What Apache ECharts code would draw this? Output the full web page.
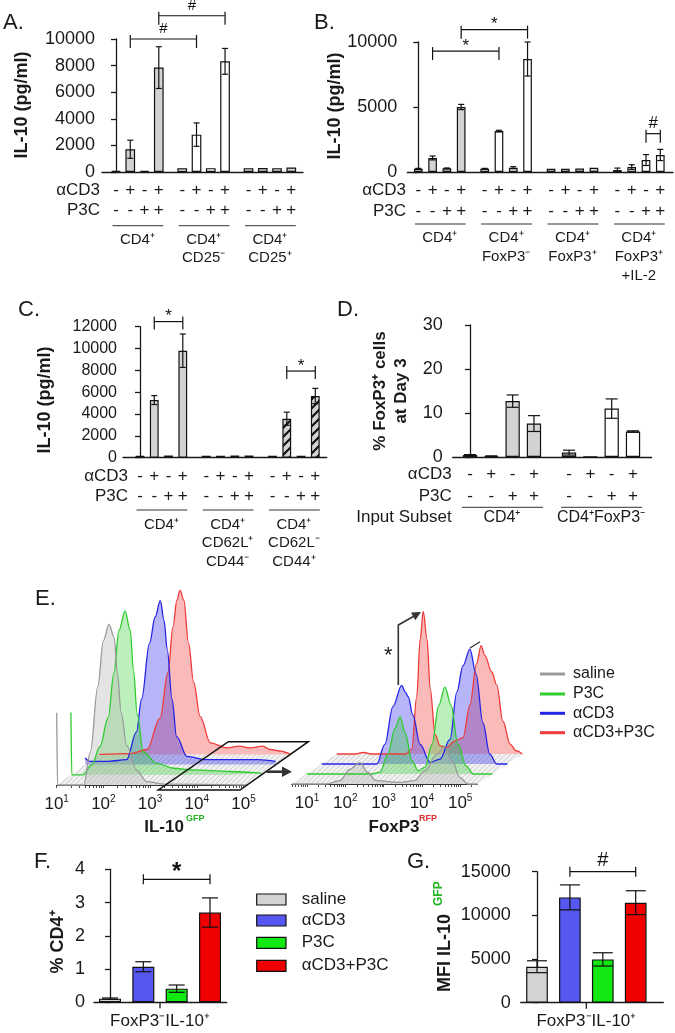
<!DOCTYPE html>
<html><head><meta charset="utf-8">
<script src="https://cdn.jsdelivr.net/npm/echarts@6/dist/echarts.min.js"></script>
<style>html,body{margin:0;padding:0;background:#fff}#c{width:675px;height:1033px}</style>
</head><body><div id="c"></div>
<script>
// ================= DATA =================
const aCD3Row = ['-', '+', '-', '+'];
const p3cRow  = ['-', '-', '+', '+'];

// Panel A
const groupsA   = ['CD4⁺', 'CD4⁺\nCD25⁻', 'CD4⁺\nCD25⁺'];
const valuesA   = [80, 1710, 90, 7850,   280, 2810, 290, 8320,   290, 300, 290, 340];
const errorsA   = [0, 680, 0, 1570,      0, 880, 0, 970,         0, 0, 0, 0];
const bracketsA = [[1, 5, 10000, '#'], [3, 7, 11750, '#']];

// Panel B
const groupsB   = ['CD4⁺', 'CD4⁺\nFoxP3⁻', 'CD4⁺\nFoxP3⁺', 'CD4⁺\nFoxP3⁺\n+IL-2'];
const valuesB   = [250, 1080, 280, 5000,  250, 3150, 330, 8690,  250, 250, 260, 330,  150, 380, 920, 1310];
const errorsB   = [30, 150, 30, 200,      30, 60, 80, 1310,      0, 0, 0, 0,          150, 180, 420, 430];
const bracketsB = [[1, 5, 9300, '*'], [3, 7, 10950, '*'], [14, 15, 2950, '#']];

// Panel C
const groupsC   = ['CD4⁺', 'CD4⁺\nCD62L⁺\nCD44⁻', 'CD4⁺\nCD62L⁻\nCD44⁺'];
const valuesC   = [180, 5280, 200, 9800,  180, 180, 200, 200,  180, 3570, 180, 5650];
const errorsC   = [0, 410, 0, 1530,       0, 0, 0, 0,          0, 600, 0, 700];
const bracketsC = [[1, 3, 12470, '*'], [9, 11, 7940, '*']];

// Panel D
const groupsD   = ['CD4⁺', 'CD4⁺FoxP3⁻'];
const valuesD   = [0.45, 0.2, 12.7, 7.6,  1.0, 0.05, 11.0, 5.8];
const errorsD   = [0.1, 0.05, 1.4, 1.8,   0.55, 0, 2.2, 0.15];

// Panels F and G
const treatmentsF = ['saline', 'αCD3', 'P3C', 'αCD3+P3C'];
const categoryFG  = 'FoxP3⁻IL-10⁺';
const valuesF   = [0.11, 1.07, 0.41, 2.70];
const errorsF   = [0.02, 0.15, 0.11, 0.44];
const bracketsF = [[1, 3, 3.70, '*']];
const valuesG   = [4120, 12060, 4960, 11450];
const errorsG   = [680, 1430, 760, 1370];
const bracketsG = [[1, 3, 15000, '#']];

// Panel E: histograms, x in decades (log10 intensity), y in % of mode
const treatmentsE = ['saline', 'P3C', 'αCD3', 'αCD3+P3C'];
const decadeLabels = [1, 2, 3, 4, 5];
const gfpSaline = [[1.0,44],[1.02,0],[1.58,0],[1.72,20],[1.88,60],[2.0,88],[2.12,98],[2.23,90],[2.3,68],[2.38,44],[2.5,24],[2.71,9],[2.93,2],[3.3,0.5],[5.08,0]];
const gfpP3C    = [[1.0,38],[1.02,0],[1.25,0],[1.45,6],[1.62,17],[1.8,35],[1.92,62],[2.03,88],[2.16,100],[2.27,88],[2.34,64],[2.42,37],[2.55,14],[2.84,7],[3.2,4],[3.6,3],[4.4,2],[5.08,1]];
const gfpCD3    = [[1.0,4],[1.1,2],[1.5,2],[1.89,3],[2.1,20],[2.21,40],[2.38,74],[2.5,90],[2.61,100],[2.69,88],[2.76,70],[2.86,40],[2.96,17],[3.18,5],[3.6,3],[4.2,3],[4.7,3],[5.08,2]];
const gfpCD3P3C = [[1.0,0],[1.66,0.5],[2.02,3],[2.3,22],[2.47,50],[2.58,78],[2.66,94],[2.73,100],[2.81,94],[2.91,68],[3.02,44],[3.16,23],[3.38,7],[3.73,4],[4.0,5],[4.23,4],[4.5,5],[4.66,3],[4.9,2],[5.02,1],[5.08,0]];
const rfpSaline = [[0.6,0],[1.5,0],[1.86,2],[2.12,9],[2.38,13],[2.59,7],[2.8,2],[3.43,1],[3.8,2],[4.08,8],[4.39,18],[4.6,23],[4.79,14],[4.99,4],[5.2,0],[5.45,0]];
const rfpP3C    = [[0.6,0],[2.3,0],[2.51,1],[2.72,12],[2.91,28],[3.04,35],[3.17,25],[3.35,8],[3.51,2],[3.69,4],[3.87,18],[4.05,42],[4.21,53],[4.37,42],[4.55,18],[4.76,5],[4.95,0],[5.45,0]];
const rfpCD3    = [[0.6,0],[2.04,0],[2.25,12],[2.46,35],[2.69,48],[2.78,44],[2.86,41],[2.98,30],[3.17,12],[3.43,1],[3.69,3],[3.95,15],[4.13,44],[4.29,60],[4.47,70],[4.63,55],[4.81,25],[4.99,6],[5.17,0],[5.45,0]];
const rfpCD3P3C = [[0.6,0],[1.1,0],[1.29,1],[1.5,0],[2.4,0],[2.56,3],[2.69,35],[2.78,70],[2.86,87],[2.96,70],[3.04,40],[3.17,12],[3.3,5],[3.47,4],[3.69,8],[3.9,10],[4.08,30],[4.25,55],[4.37,66],[4.47,60],[4.65,50],[4.78,42],[4.94,20],[5.13,6],[5.28,2],[5.45,0]];

// ================= STYLE / LAYOUT =================
const FONT = '"Liberation Sans", Arial, Helvetica, sans-serif';
const INK = '#1a1a1a';
const GREY = '#d3d3d3', WHITE = '#ffffff';
function makeHatch() {
  const c = document.createElement('canvas'); c.width = c.height = 9;
  const g = c.getContext('2d');
  g.fillStyle = GREY; g.fillRect(0, 0, 9, 9);
  g.strokeStyle = '#111'; g.lineWidth = 2.2; g.beginPath();
  g.moveTo(-1, 10); g.lineTo(10, -1); g.moveTo(-1, 1); g.lineTo(1, -1); g.moveTo(8, 10); g.lineTo(10, 8);
  g.stroke(); return c;
}
function makeFloor() {
  const c = document.createElement('canvas'); c.width = c.height = 5;
  const g = c.getContext('2d');
  g.fillStyle = '#f1f1f1'; g.fillRect(0, 0, 5, 5);
  g.strokeStyle = '#c4c4c4'; g.lineWidth = 0.8; g.beginPath();
  g.moveTo(-1, 6); g.lineTo(6, -1); g.stroke(); return c;
}
const HATCH = {image: makeHatch(), repeat: 'repeat'};
const FLOOR = {image: makeFloor(), repeat: 'repeat'};
const fillMap = {g: GREY, w: WHITE, h: HATCH};
const treatColorsFG = ['#d3d3d3', '#5656f0', '#12e812', '#f00000'];
const lineColorsE = ['#9a9a9a', '#2ecc2e', '#2424e6', '#f03a3a'];
const areaColorsE = ['rgba(185,185,185,0.55)', 'rgba(40,205,40,0.45)', 'rgba(30,30,230,0.47)', 'rgba(240,60,60,0.5)'];

const stylesA = 'ggggwwwwgggg'.split('');
const stylesB = 'ggggwwwwggggwwww'.split('');
const stylesC = 'gggggggggh gh'.replace(' ', '').split('');
const stylesD = 'ggggwwww'.split('');

const panels = [
  {values: valuesA, errors: errorsA, groups: groupsA, brackets: bracketsA, styles: stylesA,
   axisL: 102, axisR: 303, yTop: 39, y0: 172, yMax: 10000, yInt: 2000, firstPx: 116, lastPx: 291.3,
   barW: 9.7, capW: 6, tickFont: 18, margin: 7, brFont: 15, brUp: 4, brDown: 9,
   rows: [{label: 'αCD3', marks: aCD3Row, y: 190}, {label: 'P3C', marks: p3cRow, y: 210.7}],
   rowRight: 100, rowFont: 17, gLineY: 225.7, gLabelY: 240, gLH: 18, gFont: 15},
  {values: valuesB, errors: errorsB, groups: groupsB, brackets: bracketsB, styles: stylesB,
   axisL: 407.3, axisR: 673, yTop: 42, y0: 172, yMax: 10000, yInt: 5000, firstPx: 418.3, lastPx: 660.3,
   barW: 8.7, capW: 6, tickFont: 18, margin: 10, brFont: 17, brUp: 4, brDown: 9,
   rows: [{label: 'αCD3', marks: aCD3Row, y: 190}, {label: 'P3C', marks: p3cRow, y: 211.7}],
   rowRight: 406, rowFont: 17, gLineY: 224, gLabelY: 238.3, gLH: 19, gFont: 15},
  {values: valuesC, errors: errorsC, groups: groupsC, brackets: bracketsC, styles: stylesC,
   axisL: 123, axisR: 326.7, yTop: 326.7, y0: 457.7, yMax: 12000, yInt: 2000, firstPx: 140, lastPx: 315.3,
   barW: 8.8, capW: 6, tickFont: 16, margin: 6, brFont: 17, brUp: 5, brDown: 8,
   rows: [{label: 'αCD3', marks: aCD3Row, y: 476.7}, {label: 'P3C', marks: p3cRow, y: 496.7}],
   rowRight: 128, rowFont: 17, gLineY: 510, gLabelY: 525, gLH: 18.3, gFont: 15},
  {values: valuesD, errors: errorsD, groups: groupsD, brackets: [], styles: stylesD,
   axisL: 452.7, axisR: 651.7, yTop: 325, y0: 457, yMax: 30, yInt: 10, firstPx: 470, lastPx: 633,
   barW: 14.3, capW: 12, tickFont: 18, margin: 10, brFont: 17, brUp: 4, brDown: 9,
   rows: [{label: 'αCD3', marks: aCD3Row, y: 474}, {label: 'P3C', marks: p3cRow, y: 496.7}, {label: 'Input Subset', marks: null, y: 517.7}],
   rowRight: 451.7, rowFont: 17, gLineY: 507.3, gLabelY: 517.7, gLH: 18, gFont: 16, gExt: 8},
  {values: valuesF, errors: errorsF, groups: null, brackets: bracketsF, colors: treatColorsFG,
   axisL: 94, axisR: 226.7, yTop: 869.3, y0: 1002.3, yMax: 4, yInt: 1, firstPx: 110, lastPx: 210,
   barW: 22, capW: 16, tickFont: 18, margin: 9, brFont: 24, brBold: true, brUp: 5, brDown: 5, brGap: 7,
   catY: 1021.7},
  {values: valuesG, errors: errorsG, groups: null, brackets: bracketsG, colors: treatColorsFG,
   axisL: 520.7, axisR: 663.3, yTop: 871.7, y0: 1002.7, yMax: 15000, yInt: 5000, firstPx: 537, lastPx: 635.7,
   barW: 21.7, capW: 20, tickFont: 18, margin: 10, brFont: 20, brUp: 5, brDown: 5, brGap: 11.7,
   catY: 1021.7}
];
const GROUP_STEP = 4.645; // slots between first bars of consecutive groups

const grids = [], xAxes = [], yAxes = [], series = [];
const axisLineStyle = {color: INK, width: 1.3};

panels.forEach(p => {
  const gi = grids.length; p.gi = gi;
  const n = p.values.length;
  p.pos = p.values.map((_, j) => Math.floor(j / 4) * GROUP_STEP + (j % 4));
  const lastPos = p.pos[n - 1];
  const slot = (p.lastPx - p.firstPx) / lastPos;
  const xmin = -(p.firstPx - p.axisL) / slot;
  const xmax = lastPos + (p.axisR - p.lastPx) / slot;
  grids.push({left: p.axisL, top: p.yTop, width: p.axisR - p.axisL, height: p.y0 - p.yTop, outerBoundsMode: 'none', containLabel: false});
  xAxes.push({gridIndex: gi, type: 'value', min: xmin, max: xmax,
    axisLine: {show: true, onZero: false, lineStyle: axisLineStyle}, axisTick: {show: false},
    axisLabel: {show: false}, splitLine: {show: false}});
  yAxes.push({gridIndex: gi, type: 'value', min: 0, max: p.yMax, interval: p.yInt,
    axisLine: {show: true, lineStyle: axisLineStyle},
    axisTick: {show: true, length: 5, lineStyle: axisLineStyle},
    axisLabel: {fontSize: p.tickFont, color: INK, margin: p.margin, fontFamily: FONT, formatter: v => String(v)},
    splitLine: {show: false}});
  series.push({type: 'bar', xAxisIndex: gi, yAxisIndex: gi, barWidth: p.barW, silent: true,
    itemStyle: {borderColor: '#111', borderWidth: 1.2},
    data: p.values.map((v, j) => ({value: [p.pos[j], v],
      itemStyle: {color: p.colors ? p.colors[j] : fillMap[p.styles[j]]}}))});
  series.push({type: 'custom', xAxisIndex: gi, yAxisIndex: gi, silent: true, z: 4,
    data: p.values.map((v, j) => [p.pos[j], v, p.errors[j]]),
    renderItem: (params, api) => {
      const x = api.value(0), v = api.value(1), e = api.value(2);
      if (!(e > 0)) return null;
      const t = api.coord([x, v + e]), b = api.coord([x, v - e]);
      const hw = p.capW / 2, st = {stroke: '#111', lineWidth: 1.2};
      return {type: 'group', children: [
        {type: 'line', shape: {x1: t[0], y1: t[1], x2: b[0], y2: b[1]}, style: st},
        {type: 'line', shape: {x1: t[0] - hw, y1: t[1], x2: t[0] + hw, y2: t[1]}, style: st},
        {type: 'line', shape: {x1: b[0] - hw, y1: b[1], x2: b[0] + hw, y2: b[1]}, style: st}]};
    }});
  if (p.brackets.length) {
    series.push({type: 'custom', xAxisIndex: gi, yAxisIndex: gi, silent: true, z: 4, clip: false,
      data: p.brackets.map(b => [p.pos[b[0]], p.pos[b[1]], b[2]]),
      renderItem: (params, api) => {
        const a = api.coord([api.value(0), api.value(2)]), b = api.coord([api.value(1), api.value(2)]);
        const lbl = p.brackets[params.dataIndex][3];
        const st = {stroke: '#111', lineWidth: 1.2};
        const gap = p.brGap != null ? p.brGap : (lbl === '*' ? 5 : 10);
        return {type: 'group', children: [
          {type: 'line', shape: {x1: a[0], y1: a[1], x2: b[0], y2: b[1]}, style: st},
          {type: 'line', shape: {x1: a[0], y1: a[1] - p.brUp, x2: a[0], y2: a[1] + p.brDown}, style: st},
          {type: 'line', shape: {x1: b[0], y1: b[1] - p.brUp, x2: b[0], y2: b[1] + p.brDown}, style: st},
          {type: 'text', x: (a[0] + b[0]) / 2, y: a[1] - gap,
           style: {text: lbl, fill: '#111', font: (p.brBold ? 'bold ' : '') + p.brFont + 'px ' + FONT,
             textAlign: 'center', align: 'center', textVerticalAlign: 'middle', verticalAlign: 'middle'}}]};
      }});
  }
});

// Panel E histogram layers (k=0 front/saline ... k=3 back/αCD3+P3C)
const histSets = [
  {curves: [gfpSaline, gfpP3C, gfpCD3, gfpCD3P3C], origin10: 56.7, decade: 46.7, xMin: 1, xMax: 5.08, base0: 785, dx: 14.2, dy: 10.2},
  {curves: [rfpSaline, rfpP3C, rfpCD3, rfpCD3P3C], origin10: 307, decade: 38.3, xMin: 0.6, xMax: 5.45, base0: 784, dx: 15, dy: 10}
];
const HIST_H = 164;
histSets.forEach(h => {
  h.grids = [];
  for (let k = 3; k >= 0; k--) {
    const gi = grids.length; h.grids[k] = gi;
    const left = h.origin10 + k * h.dx + (h.xMin - 1) * h.decade;
    const base = h.base0 - k * h.dy;
    grids.push({left: left, top: base - HIST_H, width: (h.xMax - h.xMin) * h.decade, height: HIST_H, outerBoundsMode: 'none', containLabel: false});
    const front = k === 0;
    const minor = [];
    for (let d = 0; d <= 5; d++) for (let m = 1; m <= 9; m++) {
      const v = d + Math.log10(m);
      if (v >= h.xMin - 1e-9 && v <= h.xMax) minor.push(v);
    }
    xAxes.push({gridIndex: gi, type: 'value', min: h.xMin, max: h.xMax, show: front,
      axisLine: {show: front, onZero: false, lineStyle: {color: '#333', width: 1.1}},
      axisTick: {show: front, length: 3, customValues: minor, lineStyle: {color: '#333', width: 0.9}},
      axisLabel: {show: front, customValues: decadeLabels, margin: 9,
        formatter: v => '{b|10}{s|' + Math.round(v) + '}',
        rich: {b: {fontSize: 17, fontFamily: FONT, color: INK, lineHeight: 20},
               s: {fontSize: 10, fontFamily: FONT, color: INK, lineHeight: 12, verticalAlign: 'top'}}},
      splitLine: {show: false}});
    yAxes.push({gridIndex: gi, type: 'value', min: 0, max: 100, show: false, splitLine: {show: false}});
    series.push({type: 'line', xAxisIndex: gi, yAxisIndex: gi, data: h.curves[k], silent: true,
      smooth: 0.35, smoothMonotone: 'x', symbol: 'none', clip: false,
      lineStyle: {color: lineColorsE[k], width: 1.3},
      areaStyle: {color: areaColorsE[k]}, z: 3});
  }
});

const chart = echarts.init(document.getElementById('c'), null, {width: 675, height: 1033, renderer: 'canvas'});
chart.setOption({animation: false, backgroundColor: '#fff', grid: grids, xAxis: xAxes, yAxis: yAxes, series: series});

// ================= TEXT / ANNOTATIONS =================
const G = [];
function T(x, y, text, size, o) {
  o = o || {};
  const al = o.align || 'center', va = o.va || 'middle';
  const st = {text: text, font: (o.bold ? 'bold ' : '') + size + 'px ' + FONT, fill: o.color || INK,
    textAlign: al, align: al, textVerticalAlign: va, verticalAlign: va};
  if (o.lh) st.lineHeight = o.lh;
  return {type: 'text', x: x, y: y, rotation: o.rot || 0, z: 100, silent: true, style: st};
}
function L(x1, y1, x2, y2, w, c) {
  return {type: 'line', z: 100, silent: true, shape: {x1, y1, x2, y2}, style: {stroke: c || INK, lineWidth: w || 1}};
}
const R90 = Math.PI / 2;

panels.forEach(p => {
  const px = j => chart.convertToPixel({xAxisIndex: p.gi}, p.pos[j]);
  if (p.rows) {
    p.rows.forEach(r => {
      G.push(T(p.rowRight, r.y, r.label, p.rowFont, {align: 'right'}));
      if (r.marks) p.values.forEach((_, j) => G.push(T(px(j), r.y, r.marks[j % 4], p.rowFont)));
    });
    p.groups.forEach((lbl, g) => {
      const j0 = g * 4, j1 = g * 4 + 3;
      const ext = p.gExt || 3.5;
      G.push(L(px(j0) - ext, p.gLineY, px(j1) + ext + 1, p.gLineY, 1, '#333'));
      G.push(T((px(j0) + px(j1)) / 2, p.gLabelY - p.gLH / 2, lbl, p.gFont, {va: 'top', lh: p.gLH}));
    });
  } else {
    const cx = chart.convertToPixel({xAxisIndex: p.gi}, 1.5);
    G.push(L(cx, p.y0, cx, p.y0 + 6, 1.3));
    G.push(T(cx, p.catY, categoryFG, 17));
  }
});

// panel letters
G.push(T(3, 23, 'A.', 22, {align: 'left'}));
G.push(T(314, 23, 'B.', 22, {align: 'left'}));
G.push(T(18, 310, 'C.', 22, {align: 'left'}));
G.push(T(337, 310, 'D.', 22, {align: 'left'}));
G.push(T(35, 599, 'E.', 22, {align: 'left'}));
G.push(T(34, 862, 'F.', 22, {align: 'left'}));
G.push(T(407, 862, 'G.', 22, {align: 'left'}));

// axis titles
G.push(T(22, 105, 'IL-10 (pg/ml)', 18, {bold: true, rot: R90}));
G.push(T(335, 106, 'IL-10 (pg/ml)', 18, {bold: true, rot: R90}));
G.push(T(45, 400, 'IL-10 (pg/ml)', 18, {bold: true, rot: R90}));
G.push(T(380, 391, '% FoxP3⁺ cells', 17, {bold: true, rot: R90}));
G.push(T(401.7, 391, 'at Day 3', 17, {bold: true, rot: R90}));
G.push(T(58, 942, '% CD4⁺', 18, {bold: true, rot: R90}));
G.push(T(445, 992, 'MFI IL-10', 18, {bold: true, rot: R90, align: 'left'}));
G.push(T(439, 906, 'GFP', 12, {bold: true, rot: R90, align: 'left', color: '#22b422'}));
G.push(T(164, 827, 'IL-10', 17, {bold: true}));
G.push(T(186, 819, 'GFP', 9, {bold: true, align: 'left', color: '#22b422'}));
G.push(T(394, 827, 'FoxP3', 17, {bold: true}));
G.push(T(419, 819, 'RFP', 9, {bold: true, align: 'left', color: '#e03030'}));

// panel E floors
histSets.forEach(h => {
  const x0 = h.origin10 + (h.xMin - 1) * h.decade, x1 = x0 + (h.xMax - h.xMin) * h.decade;
  const b = h.base0;
  G.push({type: 'polygon', z: 0, silent: true,
    shape: {points: [[x0, b], [x1, b], [x1 + 3 * h.dx, b - 3 * h.dy], [x0 + 3 * h.dx, b - 3 * h.dy]]},
    style: {fill: FLOOR, stroke: null}});
});
// gate + arrow (left)
G.push({type: 'polygon', z: 100, silent: true, shape: {points: [[158.3, 790], [240, 790], [308.3, 741.7], [228.3, 741.7]]},
  style: {fill: null, stroke: '#111', lineWidth: 1.5}});
G.push(L(266.7, 771.7, 284, 771.7, 2.6, '#333'));
G.push({type: 'polygon', z: 100, silent: true, shape: {points: [[292, 771.7], [282, 766.5], [282, 776.9]]}, style: {fill: '#333'}});
// right annotation
G.push(T(388.3, 656, '*', 22));
G.push({type: 'polyline', z: 100, silent: true, shape: {points: [[398.3, 685], [398.3, 625], [416, 615]]}, style: {stroke: '#333', lineWidth: 1.6, fill: null}});
(function () {
  const tx = 421, ty = 612, ux = 0.87, uy = -0.49, len = 9, hw = 4.5;
  const bx = tx - len * ux, by = ty - len * uy;
  G.push({type: 'polygon', z: 100, silent: true, shape: {points: [[tx, ty], [bx + hw * -uy, by + hw * ux], [bx - hw * -uy, by - hw * ux]]}, style: {fill: '#333'}});
})();
G.push(L(470, 648, 480, 641.7, 1.3, '#333'));

// legend E
const legEY = [674, 694, 713.3, 732.7];
treatmentsE.forEach((t, i) => {
  G.push(L(540, legEY[i], 565, legEY[i], 3, lineColorsE[i]));
  G.push(T(573, legEY[i], t, 16, {align: 'left'}));
});
// legend F
const legFY = [899.5, 920.5, 942.8, 965.8];
treatmentsF.forEach((t, i) => {
  G.push({type: 'rect', z: 100, silent: true, shape: {x: 256.7, y: legFY[i] - 5.5, width: 29.3, height: 11},
    style: {fill: treatColorsFG[i], stroke: '#111', lineWidth: 1.2}});
  G.push(T(301.7, legFY[i], t, 17, {align: 'left'}));
});

chart.setOption({graphic: {elements: G}});
</script></body></html>
